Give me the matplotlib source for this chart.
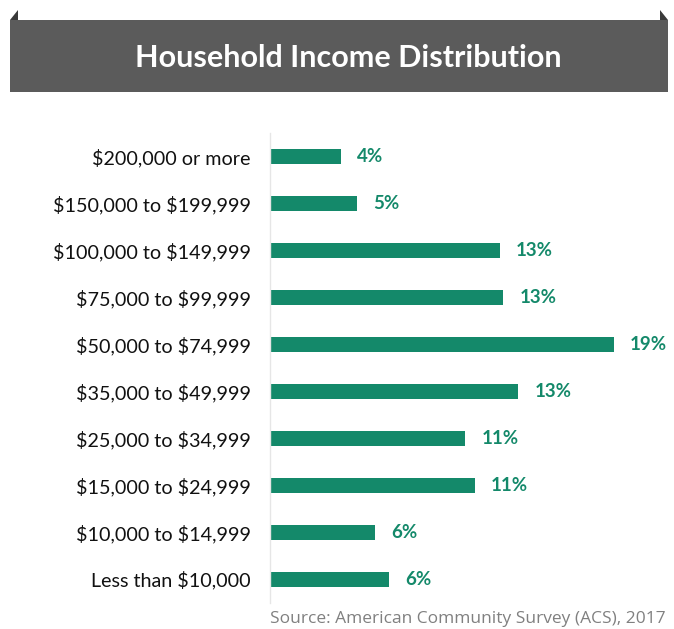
import matplotlib
matplotlib.use("Agg")
import matplotlib.pyplot as plt
from matplotlib.patches import Rectangle, Polygon

plt.rcParams["text.parse_math"] = False

categories = ["$200,000 or more", "$150,000 to $199,999", "$100,000 to $149,999",
              "$75,000 to $99,999", "$50,000 to $74,999", "$35,000 to $49,999",
              "$25,000 to $34,999", "$15,000 to $24,999", "$10,000 to $14,999",
              "Less than $10,000"]
values = [3.9, 4.8, 12.7, 12.9, 19.0, 13.7, 10.8, 11.3, 5.8, 6.6]
value_labels = ["4%", "5%", "13%", "13%", "19%", "13%", "11%", "11%", "6%", "6%"]
title = "Household Income Distribution"
source = "Source: American Community Survey (ACS), 2017"

W, H = 674, 629
fig = plt.figure(figsize=(W / 100, H / 100), dpi=100)
fig.patch.set_facecolor("white")

# header band
fig.patches.append(Rectangle((10 / W, 1 - 92 / H), 658 / W, 72 / H,
                             transform=fig.transFigure, facecolor="#5b5b5b",
                             edgecolor="none", zorder=0))
fig.patches.append(Polygon([(10 / W, 1 - 20 / H), (18 / W, 1 - 10 / H), (18 / W, 1 - 20 / H)],
                           closed=True, transform=fig.transFigure, facecolor="#3a3a3a",
                           edgecolor="none"))
fig.patches.append(Polygon([(668 / W, 1 - 20 / H), (660 / W, 1 - 10 / H), (660 / W, 1 - 20 / H)],
                           closed=True, transform=fig.transFigure, facecolor="#3a3a3a",
                           edgecolor="none"))
fig.text(348 / W, 1 - 58 / H, title, ha="center", va="center", color="white",
         fontsize=22, fontweight="bold", family="Lato")

ax = fig.add_axes([270 / W, 1 - 602.5 / H, 404 / W, 469 / H])
scale = 18.1
ax.set_xlim(0, 404 / scale)
n = len(categories)
ypos = list(range(n))
ax.set_ylim(n - 0.5, -0.5)
green = "#14896a"
ax.barh(ypos, values, height=0.32, color=green, left=0)
for y, v, lab in zip(ypos, values, value_labels):
    ax.text(v + 0.9, y, lab, va="center", ha="left", color=green,
            fontsize=13.5, fontweight="bold", family="Lato")

ax.set_yticks(ypos)
ax.set_yticklabels(categories, family="Lato", fontsize=14.2, color="#111111")
ax.tick_params(axis="y", length=0, pad=14)
ax.set_xticks([])
for s in ["top", "right", "bottom"]:
    ax.spines[s].set_visible(False)
ax.spines["left"].set_color("#e6e6e6")
ax.spines["left"].set_linewidth(1)

fig.text(270 / W, 1 - 619 / H, source, ha="left", va="center", color="#808080",
         fontsize=12.5, family="Open Sans")

fig.savefig("out.png", dpi=100)
